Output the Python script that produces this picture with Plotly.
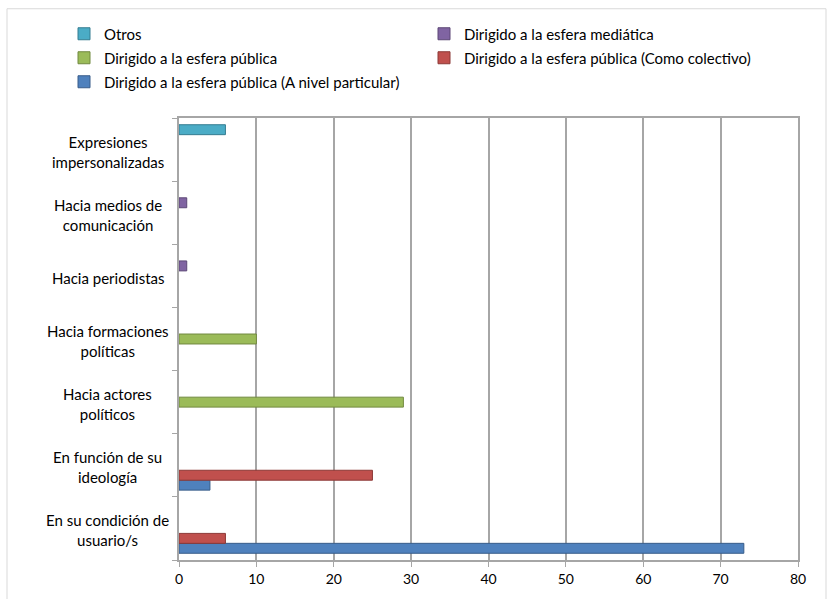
import plotly.graph_objects as go

# Categories listed bottom-to-top (Plotly draws the first category at the bottom)
categories = [
    "En su condición de usuario/s",
    "En función de su ideología",
    "Hacia actores políticos",
    "Hacia formaciones políticas",
    "Hacia periodistas",
    "Hacia medios de comunicación",
    "Expresiones impersonalizadas",
]
category_labels = [
    "En su condición de<br>usuario/s",
    "En función de su<br>ideología",
    "Hacia actores<br>políticos",
    "Hacia formaciones<br>políticas",
    "Hacia periodistas",
    "Hacia medios de<br>comunicación",
    "Expresiones<br>impersonalizadas",
]

series_names = [
    "Dirigido a la esfera pública (A nivel particular)",
    "Dirigido a la esfera pública (Como colectivo)",
    "Dirigido a la esfera pública",
    "Dirigido a la esfera mediática",
    "Otros",
]
particular = [73, 4, None, None, None, None, None]
colectivo = [6, 25, None, None, None, None, None]
publica = [None, None, 29, 10, None, None, None]
mediatica = [None, None, None, None, 1, 1, None]
otros = [None, None, None, None, None, None, 6]
series_values = [particular, colectivo, publica, mediatica, otros]

fills = ["#4F81BD", "#C0504D", "#9BBB59", "#8064A2", "#4BACC6"]
edges = ["#385D8A", "#8C3836", "#71893F", "#5C4776", "#357D91"]

FONT = "Lato"
W, H = 827, 599

# one legend box per entry, laid out in two columns
legend_ids = ["legend5", "legend4", "legend3", "legend2", "legend"]
legend_pos = {
    "legend": (64, 34),    # Otros
    "legend2": (424, 34),  # mediática
    "legend3": (64, 58),   # pública
    "legend4": (424, 58),  # como colectivo
    "legend5": (64, 82),   # a nivel particular
}

fig = go.Figure()
for name, vals, fc, ec, lg in zip(series_names, series_values, fills, edges, legend_ids):
    fig.add_trace(go.Bar(
        y=categories, x=vals, name=name, orientation="h",
        marker=dict(color=fc, line=dict(color=ec, width=1)),
        legend=lg, showlegend=True,
    ))

# category labels, centred over two lines
for cat, lab in zip(categories, category_labels):
    fig.add_annotation(
        x=-0.115, xref="paper", y=cat, yref="y", text=lab, showarrow=False,
        xanchor="center", yanchor="middle", align="center", yshift=-2,
        font=dict(family=FONT, size=15, color="#000000"),
    )

# outer chart frame
fig.add_shape(type="rect", xref="paper", yref="paper",
              x0=(7 - 179) / 619, x1=(826 - 179) / 619,
              y0=-0.3, y1=(563 - 8) / 445,
              line=dict(color="#D9D9D9", width=1), fillcolor="rgba(0,0,0,0)",
              layer="below")

leg_common = dict(
    orientation="h", xref="container", yref="container",
    xanchor="left", yanchor="middle",
    font=dict(family=FONT, size=15, color="#000000"),
    bgcolor="rgba(0,0,0,0)", itemclick=False, itemdoubleclick=False,
)
legends = {
    k: dict(leg_common, x=px / W, y=1 - py / H) for k, (px, py) in legend_pos.items()
}

fig.update_layout(
    width=W, height=H,
    margin=dict(l=179, r=29, t=118, b=36),
    paper_bgcolor="white", plot_bgcolor="white",
    showlegend=True,
    barmode="group", bargap=0.213, bargroupgap=0,
    font=dict(family=FONT, size=14, color="#000000"),
    **legends,
    xaxis=dict(
        range=[0, 80], dtick=10, tick0=0,
        showgrid=True, gridcolor="#A6A6A6", gridwidth=1.5,
        showline=True, linecolor="#A6A6A6", linewidth=1.5, mirror=True,
        ticks="outside", ticklen=5, tickcolor="#A6A6A6",
        zeroline=False, fixedrange=True,
        tickfont=dict(family=FONT, size=14, color="#000000"),
    ),
    yaxis=dict(
        categoryorder="array", categoryarray=categories,
        showticklabels=False, showgrid=False,
        showline=True, linecolor="#A6A6A6", linewidth=1.5, mirror=True,
        ticks="outside", ticklen=5, tickcolor="#A6A6A6", tickson="boundaries",
        fixedrange=True,
    ),
)

fig.write_html("out.html")
